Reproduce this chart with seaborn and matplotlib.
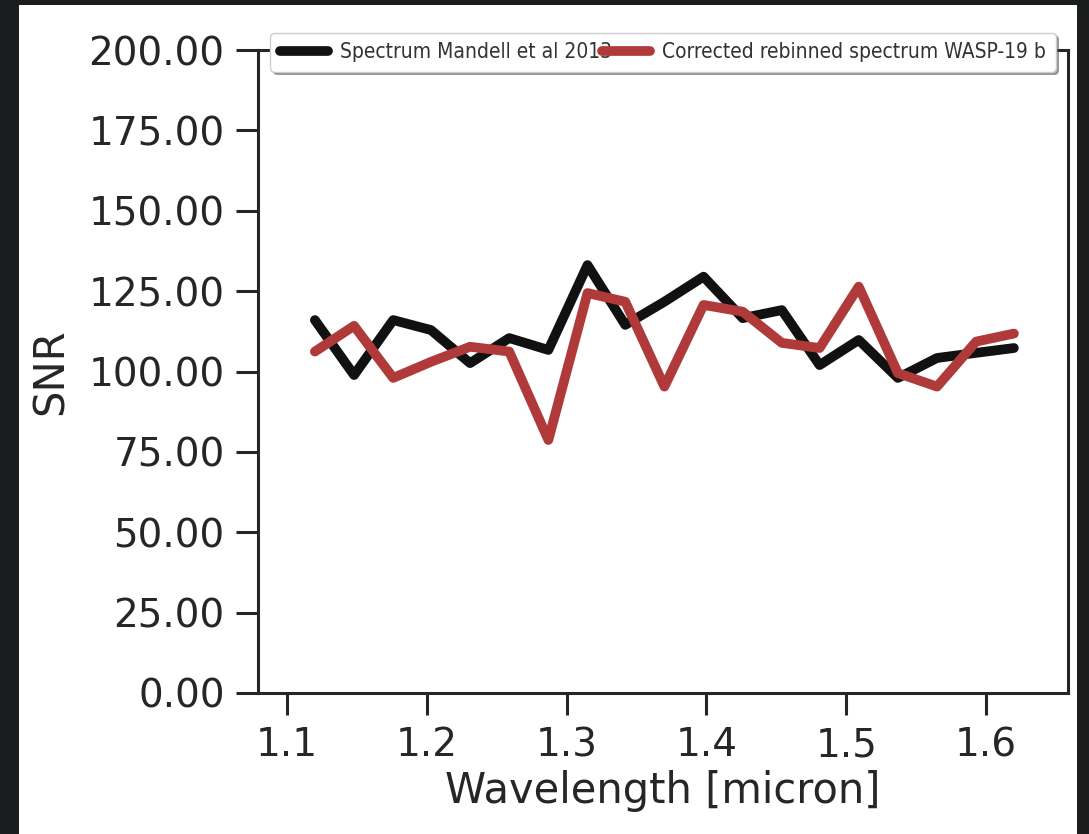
import numpy as np
import pandas as pd
import matplotlib
matplotlib.use("Agg")
import matplotlib.pyplot as plt
import seaborn as sns
from matplotlib.patches import Rectangle
from matplotlib.ticker import FormatStrFormatter
from matplotlib import font_manager

wavelength = [1.120, 1.148, 1.176, 1.203, 1.231, 1.259, 1.287, 1.315, 1.342,
              1.370, 1.398, 1.426, 1.454, 1.481, 1.509, 1.537, 1.565, 1.593, 1.620]
snr_mandell = [116.0, 98.9, 116.0, 112.9, 102.6, 110.4, 106.7, 133.1, 114.5,
               121.7, 129.5, 116.6, 119.1, 102.0, 109.8, 98.0, 104.2, 105.8, 107.3]
snr_corrected = [106.2, 114.2, 98.0, 103.0, 107.7, 106.2, 78.7, 124.4, 121.7,
                 95.3, 120.7, 118.6, 108.9, 107.3, 126.4, 99.5, 95.3, 109.3, 111.8]
series_names = ["Spectrum Mandell et al 2013", "Corrected rebinned spectrum WASP-19 b"]
y_ticks = [0, 25, 50, 75, 100, 125, 150, 175, 200]
x_ticks = [1.1, 1.2, 1.3, 1.4, 1.5, 1.6]

df = pd.DataFrame({
    "Wavelength": wavelength * 2,
    "SNR": snr_mandell + snr_corrected,
    "series": [series_names[0]] * len(wavelength) + [series_names[1]] * len(wavelength),
})

sns.set_theme(style="ticks")
plt.rcParams['font.family'] = ['DejaVu Sans']

# pick a narrow font for the legend if one is installed
names = {f.name for f in font_manager.fontManager.ttflist}
narrow = None
for cand in ["DejaVu Sans Condensed", "Liberation Sans Narrow"]:
    if cand in names:
        narrow = cand
        break
cond_stretch = any(f.name == "DejaVu Sans" and f.stretch in ("condensed", "semi-condensed", 87.5, 75)
                   for f in font_manager.fontManager.ttflist)

fig = plt.figure(figsize=(10.89, 8.34), dpi=100)
fig.patch.set_facecolor("#1b1c1e")
fig.patches.append(Rectangle((19 / 1089, 0), (1077 - 19) / 1089, 1 - 5 / 834,
                             transform=fig.transFigure, facecolor="white",
                             edgecolor="none", zorder=-10))

ax = fig.add_axes([258 / 1089, 1 - 693 / 834, (1068 - 258) / 1089, (693 - 50) / 834])
ax.set_zorder(5)
ax.set_facecolor("white")

sns.lineplot(data=df, x="Wavelength", y="SNR", hue="series",
             palette=["#111111", "#b03a3a"], linewidth=7, ax=ax)

ax.set_xlim(1.0793, 1.6587)
ax.set_ylim(0, 200)
ax.set_yticks(y_ticks)
ax.set_xticks(x_ticks)
ax.yaxis.set_major_formatter(FormatStrFormatter("%.2f"))
ax.set_xlabel("Wavelength [micron]", fontsize=30, color="#262626", labelpad=4)
ax.set_ylabel("SNR", fontsize=30, color="#262626", labelpad=12)
ax.tick_params(axis="both", labelsize=28, length=16, width=2.2, colors="#262626", pad=8)
for sp in ax.spines.values():
    sp.set_linewidth(2.2)
    sp.set_color("#262626")

if cond_stretch:
    lprop = font_manager.FontProperties(family="DejaVu Sans", stretch="condensed", size=15)
elif narrow:
    lprop = font_manager.FontProperties(family=narrow, size=15.5)
else:
    lprop = font_manager.FontProperties(family="DejaVu Sans", size=13.5)

leg = ax.legend(loc="upper center", bbox_to_anchor=(0.5, 1.043), ncol=2,
                prop=lprop, frameon=True, shadow=True, fancybox=True,
                framealpha=1, edgecolor="#cccccc", handlelength=2.3,
                columnspacing=-0.5, handletextpad=0.6, borderpad=0.45)
for line in leg.get_lines():
    line.set_linewidth(7)
for t in leg.get_texts():
    t.set_color("#333333")

fig.savefig("out.png", dpi=100, facecolor=fig.get_facecolor())
